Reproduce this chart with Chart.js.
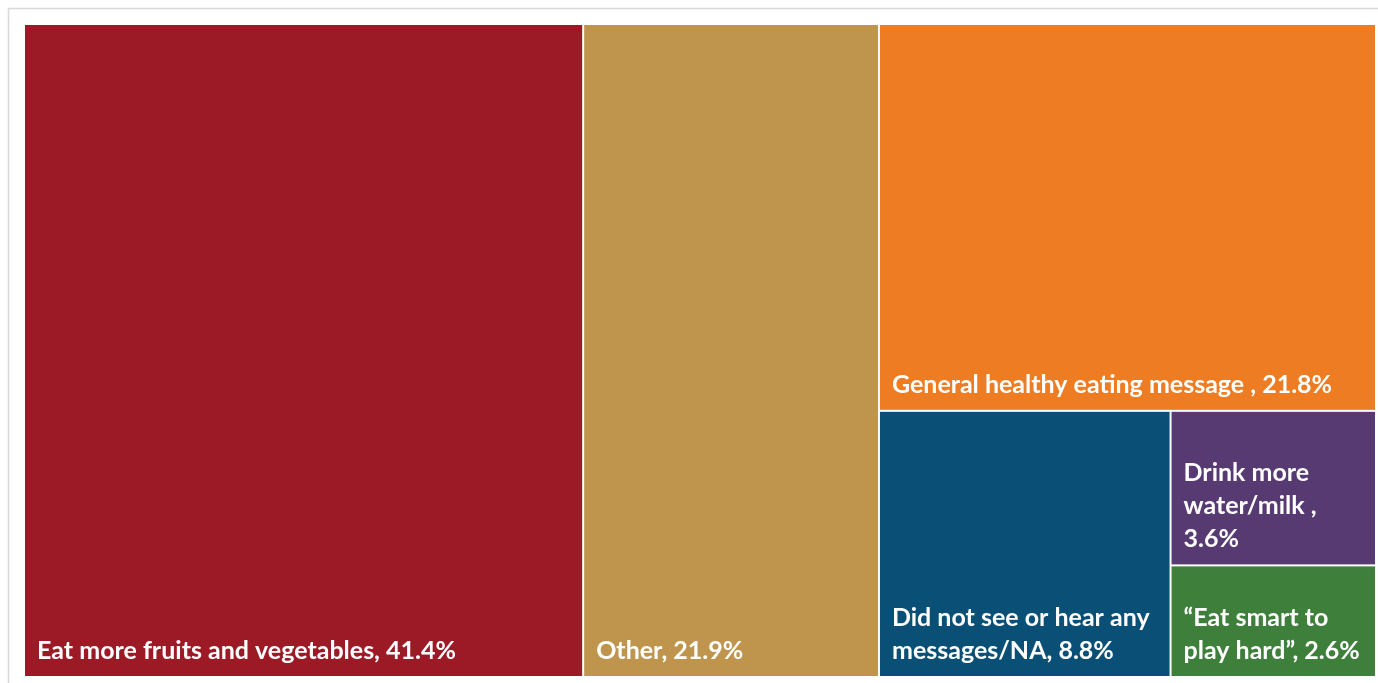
<!DOCTYPE html>
<html>
<head>
<meta charset="utf-8">
<script src="https://cdn.jsdelivr.net/npm/chart.js@4.4.1/dist/chart.umd.min.js"></script>
<style>
  html, body { margin: 0; padding: 0; background: #fff; }
  #wrap { width: 1378px; height: 683px; }
</style>
</head>
<body>
<div id="wrap"><canvas id="treemap"></canvas></div>
<script>
// Messages recalled (% of respondents)
const categories = [
  'Eat more fruits and vegetables',
  'Other',
  'General healthy eating message ',
  'Did not see or hear any messages/NA',
  'Drink more water/milk ',
  '\u201CEat smart to play hard\u201D'
];
const shares = [41.4, 21.9, 21.8, 8.8, 3.6, 2.6];
const tileColors = ['#9C1A25', '#BF954E', '#EE7C22', '#0A4F75', '#583A72', '#3E7F3B'];

// each value is cut off the longer side of the space that is still free
function sliceLayout(values, xs, ys) {
  const rects = [];
  let x0 = 0, x1 = 100, y0 = 0, y1 = 100;
  let rest = values.reduce((a, b) => a + b, 0);
  values.forEach((v, i) => {
    const f = i === values.length - 1 ? 1 : v / rest;
    const pw = Math.abs(xs.getPixelForValue(x1) - xs.getPixelForValue(x0));
    const ph = Math.abs(ys.getPixelForValue(y1) - ys.getPixelForValue(y0));
    if (pw >= ph) {
      const xm = x0 + (x1 - x0) * f;
      rects.push({ x0: x0, x1: xm, y0: y0, y1: y1 });
      x0 = xm;
    } else {
      const ym = y0 + (y1 - y0) * f;
      rects.push({ x0: x0, x1: x1, y0: y0, y1: ym });
      y0 = ym;
    }
    rest -= v;
  });
  return rects;
}

function wrapText(ctx, text, maxW) {
  const words = text.split(' ');
  const lines = [];
  let line = '';
  words.forEach(w => {
    const test = line ? line + ' ' + w : w;
    if (line && ctx.measureText(test).width > maxW) {
      lines.push(line);
      line = w;
    } else {
      line = test;
    }
  });
  if (line) lines.push(line);
  return lines;
}

const tilesPlugin = {
  id: 'tiles',
  beforeDraw(chart) {
    const ctx = chart.ctx;
    ctx.save();
    ctx.strokeStyle = '#d9d9d9';
    ctx.lineWidth = 1.5;
    ctx.strokeRect(8.5, 8.5, chart.width + 20, chart.height + 20);
    ctx.restore();
  },
  afterDatasetsDraw(chart) {
    const ctx = chart.ctx;
    const xs = chart.scales.x, ys = chart.scales.y;
    const rects = sliceLayout(shares, xs, ys);
    ctx.save();
    ctx.font = 'bold 25px Lato';
    ctx.textBaseline = 'alphabetic';
    ctx.textAlign = 'left';
    rects.forEach((r, i) => {
      const left = xs.getPixelForValue(r.x0) + 1;
      const right = xs.getPixelForValue(r.x1) - 1;
      const top = ys.getPixelForValue(r.y0) + 1;
      const bottom = ys.getPixelForValue(r.y1) - 1;
      ctx.fillStyle = tileColors[i];
      ctx.fillRect(left, top, right - left, bottom - top);

      const label = categories[i] + ', ' + shares[i].toFixed(1) + '%';
      const lines = wrapText(ctx, label, right - left - 24);
      ctx.fillStyle = '#ffffff';
      const lineH = 33;
      let y = bottom - 17 - (lines.length - 1) * lineH;
      lines.forEach(l => {
        ctx.fillText(l, left + 12, y);
        y += lineH;
      });
    });
    ctx.restore();
  }
};

new Chart(document.getElementById('treemap'), {
  type: 'scatter',
  data: {
    datasets: [{ label: 'Share', data: [], pointRadius: 0 }]
  },
  options: {
    responsive: true,
    maintainAspectRatio: false,
    animation: false,
    events: [],
    layout: { padding: { left: 24, top: 24, right: 2, bottom: 6 } },
    plugins: { legend: { display: false }, tooltip: { enabled: false } },
    scales: {
      x: { type: 'linear', min: 0, max: 100, display: false },
      y: { type: 'linear', min: 0, max: 100, reverse: true, display: false }
    }
  },
  plugins: [tilesPlugin]
});
</script>
</body>
</html>
